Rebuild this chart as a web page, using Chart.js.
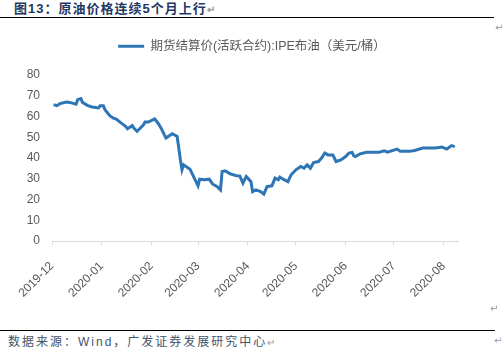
<!DOCTYPE html>
<html>
<head>
<meta charset="utf-8">
<script src="https://cdn.jsdelivr.net/npm/chart.js@4"></script>
<style>
  body { margin: 0; width: 504px; height: 354px; background: #fff; position: relative; overflow: hidden; }
  .title { position: absolute; left: 14px; top: 0; font: bold 13px "Liberation Sans", "Noto Sans CJK SC", sans-serif; letter-spacing: 1px; color: #1F3864; line-height: 17px; }
  .rule { position: absolute; left: 0; height: 1px; background: #000; }
  .src { position: absolute; left: 8px; top: 334px; font: 12px "Liberation Sans", "Noto Sans CJK SC", sans-serif; letter-spacing: 2px; color: #44546A; line-height: 16px; }
  .mark { color: #999; font-size: 10px; letter-spacing: 0; }
  .pm { position: absolute; color: #999; font: 10px "DejaVu Sans", sans-serif; }
  #chart { position: absolute; left: 0; top: 28px; }
</style>
</head>
<body>
<div class="title">图13：原油价格连续5个月上行<span class="mark">↵</span></div>
<div class="rule" style="top:17px; width:494px;"></div>
<span class="pm" style="left:495px; top:22px;">↵</span>
<canvas id="chart" width="504" height="292"></canvas>
<span class="pm" style="left:490px; top:303px;">↵</span>
<div class="rule" style="top:330px; width:495px;"></div>
<div class="src">数据来源：Wind，广发证券发展研究中心<span class="mark">↵</span></div>
<span class="pm" style="left:494px; top:335px;">↵</span>
<script>
// series: IPE Brent, active contract settlement (USD/bbl)
const seriesName = '期货结算价(活跃合约):IPE布油（美元/桶）';
const dates = [
  '2019-12-02','2019-12-04','2019-12-06','2019-12-10','2019-12-12','2019-12-16','2019-12-17','2019-12-19',
  '2019-12-20','2019-12-23','2019-12-26','2019-12-30','2019-12-31','2020-01-02','2020-01-03','2020-01-06',
  '2020-01-08','2020-01-10','2020-01-13','2020-01-16','2020-01-17','2020-01-20','2020-01-21','2020-01-23',
  '2020-01-27','2020-01-28','2020-01-30','2020-02-03','2020-02-05','2020-02-07','2020-02-10','2020-02-13',
  '2020-02-14','2020-02-17','2020-02-18','2020-02-19','2020-02-20','2020-02-21','2020-02-25','2020-02-27',
  '2020-03-01','2020-03-02','2020-03-05','2020-03-08','2020-03-10','2020-03-13','2020-03-15','2020-03-16',
  '2020-03-18','2020-03-21','2020-03-23','2020-03-25','2020-03-27','2020-03-29','2020-03-31','2020-04-01',
  '2020-04-03','2020-04-04','2020-04-06','2020-04-09','2020-04-11','2020-04-13','2020-04-16','2020-04-18',
  '2020-04-20','2020-04-21','2020-04-23','2020-04-26','2020-04-28','2020-05-01','2020-05-04','2020-05-06',
  '2020-05-08','2020-05-10','2020-05-12','2020-05-15','2020-05-17','2020-05-19','2020-05-21','2020-05-24',
  '2020-05-26','2020-05-29','2020-06-01','2020-06-03','2020-06-05','2020-06-06','2020-06-07','2020-06-10',
  '2020-06-14','2020-06-19','2020-06-22','2020-06-25','2020-06-27','2020-07-03','2020-07-05','2020-07-11',
  '2020-07-14','2020-07-19','2020-07-23','2020-07-27','2020-07-31','2020-08-03','2020-08-06','2020-08-08'
];
const prices = [
  65.7, 65.2, 66.2, 67.0, 66.8, 65.9, 68.1, 68.6,
  66.8, 65.4, 64.6, 64.1, 65.2, 65.2, 63.3, 60.4,
  59.3, 58.8, 56.9, 55.2, 54.1, 55.6, 54.4, 52.8,
  56.0, 57.3, 57.3, 58.8, 56.9, 54.4, 49.6, 51.2,
  51.7, 50.4, 44.8, 39.1, 34.3, 36.7, 34.6, 31.4,
  26.6, 29.8, 29.5, 29.8, 27.5, 26.2, 24.6, 33.5,
  33.8, 32.4, 31.9, 31.5, 31.4, 27.9, 31.1, 30.3,
  28.6, 23.8, 24.6, 23.8, 22.6, 26.2, 26.6, 30.3,
  29.5, 30.8, 29.8, 28.6, 31.9, 34.3, 35.9, 35.1,
  36.7, 35.1, 37.8, 38.3, 40.0, 42.4, 41.5, 41.5,
  38.3, 39.1, 40.7, 42.4, 42.7, 41.1, 40.7, 42.0,
  42.8, 42.8, 42.8, 43.5, 42.8, 44.3, 43.3, 43.3,
  43.6, 44.8, 44.8, 44.8, 45.3, 44.3, 46.0, 45.5
];
const monthTicks = ['2019-12','2020-01','2020-02','2020-03','2020-04','2020-05','2020-06','2020-07','2020-08'];
const xEnd = '2020-08-10';

const DAY = 86400000;
const t0 = Date.UTC(2019, 11, 1);
function dayOf(s) {
  const p = s.split('-').map(Number);
  return (Date.UTC(p[0], p[1] - 1, p[2] || 1) - t0) / DAY;
}

const points = dates.map((d, i) => ({ x: dayOf(d), y: prices[i] }));
const tickDays = monthTicks.map(dayOf);

// force the legend block height so the plot starts where the reference does
const legendHeight = {
  id: 'legendHeight',
  beforeUpdate(chart) {
    const lg = chart.legend;
    if (lg && !lg._patched) {
      const fit = lg.fit;
      lg.fit = function () { fit.call(this); this.height = 47; };
      lg._patched = true;
    }
  }
};

new Chart(document.getElementById('chart'), {
  type: 'line',
  data: {
    datasets: [{
      label: seriesName,
      data: points,
      borderColor: '#2E75B6',
      backgroundColor: '#2E75B6',
      borderWidth: 3,
      pointRadius: 0,
      tension: 0
    }]
  },
  options: {
    responsive: false,
    animation: false,
    devicePixelRatio: 1,
    layout: { padding: { left: 0, right: 0, top: 0, bottom: 0 } },
    plugins: {
      legend: {
        labels: {
          usePointStyle: true,
          pointStyle: 'line',
          pointStyleWidth: 26,
          padding: 12,
          color: '#595959',
          font: { family: '"Liberation Sans", "Noto Sans CJK SC", sans-serif', size: 12.5 }
        }
      },
      tooltip: { enabled: false }
    },
    scales: {
      x: {
        type: 'linear',
        min: 0,
        max: dayOf(xEnd),
        afterFit(scale) { scale.height = 79; },
        afterBuildTicks(scale) { scale.ticks = tickDays.map(v => ({ value: v })); },
        grid: { drawOnChartArea: false, drawTicks: true, tickLength: 4, color: '#D9D9D9' },
        border: { color: '#D9D9D9' },
        ticks: {
          autoSkip: false,
          minRotation: 45,
          maxRotation: 45,
          padding: 14,
          color: '#595959',
          font: { family: '"Liberation Sans", Arial, sans-serif', size: 12 },
          callback: (v, i) => monthTicks[i]
        }
      },
      y: {
        min: 0,
        max: 80,
        afterFit(scale) { scale.width = 52; },
        grid: { display: false, drawTicks: false },
        border: { display: false },
        ticks: {
          stepSize: 10,
          padding: 12,
          color: '#595959',
          font: { family: '"Liberation Sans", Arial, sans-serif', size: 12 }
        }
      },
      // empty right axis, only reserves the blank strip right of the plot
      yRight: {
        position: 'right',
        min: 0,
        max: 80,
        afterFit(scale) { scale.width = 46; },
        grid: { display: false, drawTicks: false },
        border: { display: false },
        ticks: { display: false }
      }
    }
  },
  plugins: [legendHeight]
});
</script>
</body>
</html>
